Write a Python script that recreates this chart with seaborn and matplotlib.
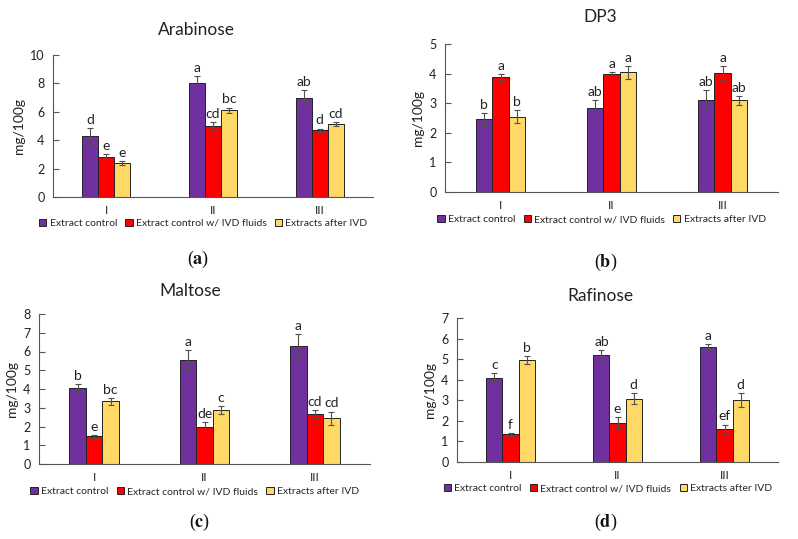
import numpy as np
import pandas as pd
import matplotlib
matplotlib.use("Agg")
import matplotlib.pyplot as plt
import seaborn as sns

sns.set_theme(style="white")
plt.rcParams["font.family"] = ["Lato", "DejaVu Sans"]
plt.rcParams["mathtext.fontset"] = "stix"

groups = ["I", "II", "III"]
series = ["Extract control", "Extract control w/ IVD fluids", "Extracts after IVD"]
colors = ["#7030A0", "#FF0000", "#FFD966"]

# Arabinose
arab_ctrl = [4.3, 8.0, 7.0]
arab_fluid = [2.85, 5.0, 4.7]
arab_ivd = [2.4, 6.1, 5.15]
arab_ctrl_err = [0.55, 0.55, 0.55]
arab_fluid_err = [0.2, 0.25, 0.12]
arab_ivd_err = [0.15, 0.2, 0.15]
arab_letters = [["d", "a", "ab"], ["e", "cd", "d"], ["e", "bc", "cd"]]

# DP3
dp3_ctrl = [2.45, 2.85, 3.1]
dp3_fluid = [3.9, 4.0, 4.02]
dp3_ivd = [2.55, 4.05, 3.1]
dp3_ctrl_err = [0.22, 0.25, 0.35]
dp3_fluid_err = [0.1, 0.05, 0.22]
dp3_ivd_err = [0.22, 0.22, 0.15]
dp3_letters = [["b", "ab", "ab"], ["a", "a", "a"], ["b", "a", "ab"]]

# Maltose
malt_ctrl = [4.05, 5.55, 6.3]
malt_fluid = [1.48, 1.95, 2.65]
malt_ivd = [3.35, 2.88, 2.45]
malt_ctrl_err = [0.22, 0.55, 0.62]
malt_fluid_err = [0.08, 0.28, 0.22]
malt_ivd_err = [0.18, 0.22, 0.35]
malt_letters = [["b", "a", "a"], ["e", "de", "cd"], ["bc", "c", "cd"]]

# Rafinose
raf_ctrl = [4.1, 5.2, 5.6]
raf_fluid = [1.35, 1.92, 1.6]
raf_ivd = [4.97, 3.08, 3.0]
raf_ctrl_err = [0.22, 0.25, 0.15]
raf_fluid_err = [0.07, 0.25, 0.22]
raf_ivd_err = [0.2, 0.25, 0.35]
raf_letters = [["c", "ab", "a"], ["f", "e", "ef"], ["b", "d", "d"]]

panels = [
    ("Arabinose", [arab_ctrl, arab_fluid, arab_ivd], [arab_ctrl_err, arab_fluid_err, arab_ivd_err],
     arab_letters, 10, [53, 55, 373, 197], (196, 30), (198, 259), "a"),
    ("DP3", [dp3_ctrl, dp3_fluid, dp3_ivd], [dp3_ctrl_err, dp3_fluid_err, dp3_ivd_err],
     dp3_letters, 5, [445, 44, 778, 192], (600, 17), (606, 262), "b"),
    ("Maltose", [malt_ctrl, malt_fluid, malt_ivd], [malt_ctrl_err, malt_fluid_err, malt_ivd_err],
     malt_letters, 8, [39, 314, 370, 464], (190, 291), (200, 522), "c"),
    ("Rafinose", [raf_ctrl, raf_fluid, raf_ivd], [raf_ctrl_err, raf_fluid_err, raf_ivd_err],
     raf_letters, 7, [457, 318, 778, 462], (600, 296), (606, 522), "d"),
]

W, H = 798, 539
fig = plt.figure(figsize=(W / 100, H / 100), dpi=100)

for title, vals, errs, letters, ymax, box, tpos, lpos, tag in panels:
    x0, y0, x1, y1 = box
    ax = fig.add_axes([x0 / W, 1 - y1 / H, (x1 - x0) / W, (y1 - y0) / H])
    df = pd.DataFrame({
        "group": groups * 3,
        "series": np.repeat(series, 3),
        "value": np.concatenate(vals),
    })
    sns.barplot(data=df, x="group", y="value", hue="series", hue_order=series,
                palette=colors, saturation=1, width=0.45, edgecolor="#222222",
                linewidth=0.7, errorbar=None, ax=ax)
    bar_sets = list(ax.containers)
    for k, cont in enumerate(bar_sets):
        for j, bar in enumerate(cont):
            cx = bar.get_x() + bar.get_width() / 2
            h = bar.get_height()
            ax.errorbar(cx, h, yerr=errs[k][j], color="#505050", lw=0.8,
                        capsize=2.5, capthick=0.8)
            ax.annotate(letters[k][j], (cx, h + errs[k][j]), xytext=(0, 1.5),
                        textcoords="offset points", ha="center", va="bottom",
                        fontsize=10, color="#222222")
    ax.set_ylim(0, ymax)
    ax.set_xlim(-0.5, 2.5)
    ax.set_yticks(range(0, ymax + 1, 2 if ymax == 10 else 1))
    ax.set_xlabel("")
    ax.set_ylabel("mg/100g", fontsize=10, color="#222222", labelpad=4)
    sns.despine(ax=ax)
    for s in ["left", "bottom"]:
        ax.spines[s].set_color("#555555")
        ax.spines[s].set_linewidth(0.8)
    ax.tick_params(axis="y", direction="in", length=4, width=0.8, color="#555555",
                   labelsize=9, labelcolor="#222222", left=True, pad=6)
    ax.tick_params(axis="x", length=0, labelsize=8.5, labelcolor="#222222", pad=6)
    handles, labels = ax.get_legend_handles_labels()
    ax.legend(handles, labels, loc="center", bbox_to_anchor=(0.47, -0.185), ncol=3,
              frameon=False, fontsize=7.5, handlelength=0.7, handleheight=0.7,
              handletextpad=0.3, columnspacing=0.8, borderaxespad=0)
    fig.text(tpos[0] / W, 1 - tpos[1] / H, title, ha="center", va="center",
             fontsize=12.5, color="#222222")
    fig.text(lpos[0] / W, 1 - lpos[1] / H, "($\\mathbf{%s}$)" % tag, ha="center",
             va="center", fontsize=13, family="Liberation Serif", color="#111111")

fig.savefig("out.png", dpi=100, facecolor="white")
